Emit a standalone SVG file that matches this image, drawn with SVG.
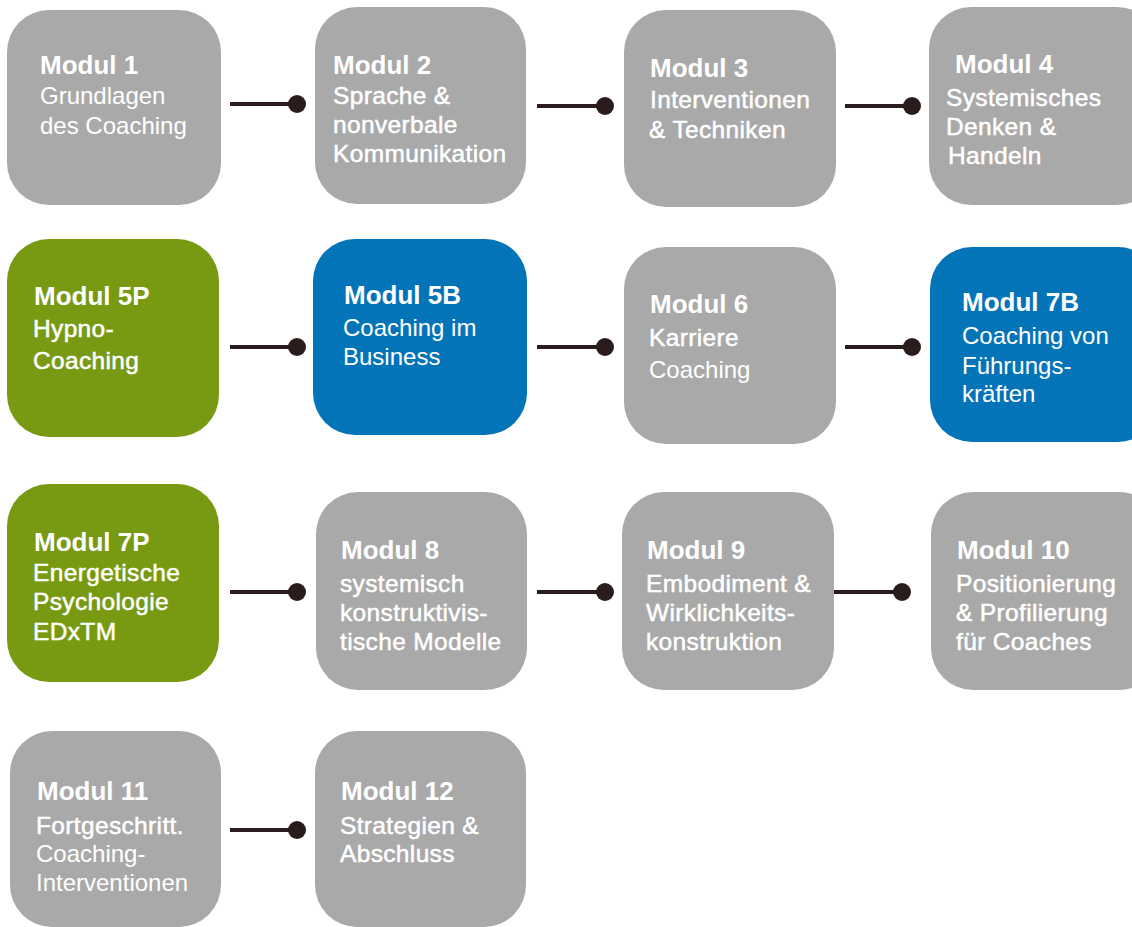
<svg xmlns="http://www.w3.org/2000/svg" width="1132" height="927" viewBox="0 0 1132 927">
<style>
.box{stroke:none}
.g{fill:#a9a9a9}
.gr{fill:#789a12}
.bl{fill:#0474b8}
text{font-family:"Liberation Sans",Arial,Helvetica,sans-serif;fill:#ffffff}
.t{font-size:26px;font-weight:bold}
.s{font-size:24px}
.m{font-size:24.5px;letter-spacing:0.35px;stroke:#ffffff;stroke-width:0.5px}
.c line{stroke:#2a1c1c;stroke-width:4}
.c circle{fill:#2a1c1c}
</style>
<rect x="0" y="0" width="1132" height="927" fill="#ffffff"/>
<g id="connectors" class="c">
<line x1="230" y1="104" x2="297" y2="104"/><circle cx="297" cy="104" r="9"/>
<line x1="537" y1="106" x2="605" y2="106"/><circle cx="605" cy="106" r="9"/>
<line x1="845" y1="106" x2="912" y2="106"/><circle cx="912" cy="106" r="9"/>
<line x1="230" y1="347" x2="297" y2="347"/><circle cx="297" cy="347" r="9"/>
<line x1="537" y1="347" x2="605" y2="347"/><circle cx="605" cy="347" r="9"/>
<line x1="845" y1="347" x2="912" y2="347"/><circle cx="912" cy="347" r="9"/>
<line x1="230" y1="592" x2="297" y2="592"/><circle cx="297" cy="592" r="9"/>
<line x1="537" y1="592" x2="605" y2="592"/><circle cx="605" cy="592" r="9"/>
<line x1="834" y1="592" x2="902" y2="592"/><circle cx="902" cy="592" r="9"/>
<line x1="230" y1="830" x2="297" y2="830"/><circle cx="297" cy="830" r="9"/>
</g>
<g id="m1"><rect class="box g" x="7" y="10" width="214" height="195" rx="42"/>
<text class="t" x="40" y="74">Modul 1</text><text class="s" x="40" y="104">Grundlagen</text><text class="s" x="40" y="134">des Coaching</text></g>
<g id="m2"><rect class="box g" x="315" y="7" width="211" height="197" rx="42"/>
<text class="t" x="333" y="74">Modul 2</text><text class="m" x="333" y="104">Sprache &amp;</text><text class="m" x="333" y="133">nonverbale</text><text class="m" x="333" y="162">Kommunikation</text></g>
<g id="m3"><rect class="box g" x="624" y="10" width="212" height="197" rx="42"/>
<text class="t" x="650" y="77">Modul 3</text><text class="m" x="650" y="108">Interventionen</text><text class="m" x="649" y="138">&amp; Techniken</text></g>
<g id="m4"><rect class="box g" x="929" y="7" width="230" height="198" rx="42"/>
<text class="t" x="955" y="73">Modul 4</text><text class="m" x="946" y="106">Systemisches</text><text class="m" x="946" y="135">Denken &amp;</text><text class="m" x="948" y="164">Handeln</text></g>
<g id="m5p"><rect class="box gr" x="7" y="239" width="212" height="198" rx="42"/>
<text class="t" x="34" y="305">Modul 5P</text><text class="m" x="33" y="337">Hypno-</text><text class="m" x="33" y="369">Coaching</text></g>
<g id="m5b"><rect class="box bl" x="313" y="239" width="214" height="196" rx="42"/>
<text class="t" x="344" y="304">Modul 5B</text><text class="s" x="343" y="336">Coaching im</text><text class="s" x="343" y="365">Business</text></g>
<g id="m6"><rect class="box g" x="624" y="247" width="212" height="197" rx="42"/>
<text class="t" x="650" y="313">Modul 6</text><text class="m" x="649" y="346">Karriere</text><text class="s" x="649" y="378">Coaching</text></g>
<g id="m7b"><rect class="box bl" x="930" y="247" width="230" height="195" rx="42"/>
<text class="t" x="962" y="311">Modul 7B</text><text class="s" x="962" y="344">Coaching von</text><text class="s" x="962" y="374">Führungs-</text><text class="s" x="962" y="402">kräften</text></g>
<g id="m7p"><rect class="box gr" x="7" y="484" width="212" height="198" rx="42"/>
<text class="t" x="34" y="551">Modul 7P</text><text class="m" x="33" y="581">Energetische</text><text class="m" x="33" y="610">Psychologie</text><text class="m" x="33" y="640">EDxTM</text></g>
<g id="m8"><rect class="box g" x="316" y="492" width="211" height="198" rx="42"/>
<text class="t" x="341" y="559">Modul 8</text><text class="m" x="340" y="592">systemisch</text><text class="m" x="340" y="621">konstruktivis-</text><text class="m" x="340" y="650">tische Modelle</text></g>
<g id="m9"><rect class="box g" x="622" y="492" width="212" height="198" rx="42"/>
<text class="t" x="647" y="559">Modul 9</text><text class="m" x="646" y="592">Embodiment &amp;</text><text class="m" x="646" y="621">Wirklichkeits-</text><text class="m" x="646" y="650">konstruktion</text></g>
<g id="m10"><rect class="box g" x="931" y="492" width="230" height="198" rx="42"/>
<text class="t" x="957" y="559">Modul 10</text><text class="m" x="956" y="592">Positionierung</text><text class="m" x="956" y="621">&amp; Profilierung</text><text class="m" x="956" y="650">für Coaches</text></g>
<g id="m11"><rect class="box g" x="10" y="731" width="211" height="196" rx="42"/>
<text class="t" x="37" y="800">Modul 11</text><text class="m" x="36" y="834">Fortgeschritt.</text><text class="s" x="36" y="862">Coaching-</text><text class="s" x="36" y="891">Interventionen</text></g>
<g id="m12"><rect class="box g" x="315" y="731" width="211" height="196" rx="42"/>
<text class="t" x="341" y="800">Modul 12</text><text class="m" x="340" y="834">Strategien &amp;</text><text class="m" x="340" y="862">Abschluss</text></g>
</svg>
